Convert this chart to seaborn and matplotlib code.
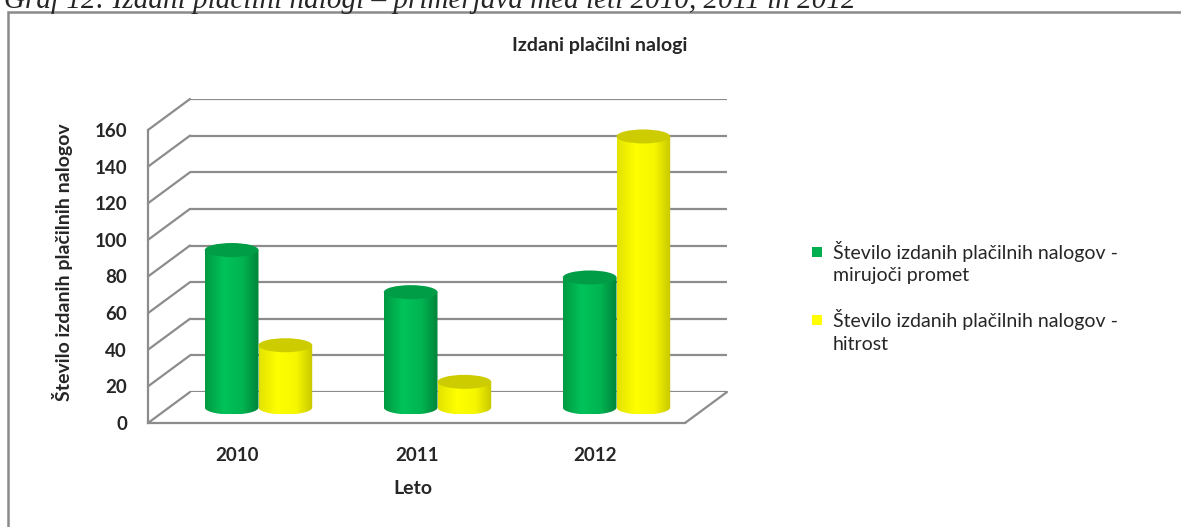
import numpy as np
import pandas as pd
import seaborn as sns
import matplotlib.pyplot as plt
from matplotlib.patches import Ellipse, PathPatch, Rectangle
from matplotlib.path import Path

# data
years = ['2010', '2011', '2012']
mirujoci = [86, 63, 71]
hitrost = [34, 14, 148]
series = ['Število izdanih plačilnih nalogov - mirujoči promet',
          'Število izdanih plačilnih nalogov - hitrost']
legend_lines = [['Število izdanih plačilnih nalogov -', 'mirujoči promet'],
                ['Število izdanih plačilnih nalogov -', 'hitrost']]
yticks = [0, 20, 40, 60, 80, 100, 120, 140, 160]

df = pd.DataFrame({
    'Leto': years * 2,
    'nalogi': mirujoci + hitrost,
    'serija': [series[0]] * 3 + [series[1]] * 3,
})

sns.set_style('white')
plt.rcParams['font.family'] = ['Lato', 'DejaVu Sans']

W, H = 1181, 527
fig = plt.figure(figsize=(W / 100, H / 100), dpi=100)

GRID = '#8c8c8c'
GREEN = '#00b050'
YELLOW = '#ffff00'

# front plane of the fake 3d box, in pixels
FX0, FX1, FY0, FY1 = 148, 685, 423, 130
DX, DY = 21, 15.5          # half depth offset in pixels
pw, ph = (FX1 - FX0) / W, (FY0 - FY1) / H


def plane_axes(step, z):
    a = fig.add_axes([(FX0 + step * DX) / W, 1 - (FY0 - step * DY) / H, pw, ph], zorder=z)
    a.set_xlim(-0.5, 2.5)
    a.set_ylim(0, 160)
    a.patch.set_alpha(0)
    return a


ax_back = plane_axes(2, 0)
ax_front = plane_axes(0, 1)
ax_mid = plane_axes(1, 2)

# back wall gridlines
ax_back.set_yticks(yticks)
ax_back.yaxis.grid(True, color=GRID, lw=1.6)
ax_back.tick_params(left=False, bottom=False, labelleft=False, labelbottom=False)
for s in ax_back.spines.values():
    s.set_visible(False)

# front axis, floor and side diagonals
dxd = DX / ((FX1 - FX0) / 3)
dyd = DY / ((FY0 - FY1) / 160)
for s in ['top', 'right']:
    ax_front.spines[s].set_visible(False)
for s in ['left', 'bottom']:
    ax_front.spines[s].set_color(GRID)
    ax_front.spines[s].set_linewidth(1.6)
ax_front.set_yticks(yticks)
ax_front.set_yticklabels([str(t) for t in yticks], fontweight='bold')
ax_front.tick_params(axis='y', length=5, width=1.4, color=GRID, labelsize=13.5, pad=10)
ax_front.set_xticks(range(len(years)))
ax_front.set_xticklabels(years, fontweight='bold')
ax_front.tick_params(axis='x', length=0, labelsize=13.5, pad=17)
for t in yticks:
    ax_front.plot([-0.5, -0.5 + 2 * dxd], [t, t + 2 * dyd], color=GRID, lw=1.6, clip_on=False)
ax_front.plot([2.5, 2.5 + 2 * dxd], [0, 2 * dyd], color=GRID, lw=1.6, clip_on=False)

ax_front.set_xlabel('Leto', fontsize=14, fontweight='bold')
ax_front.xaxis.set_label_coords((413 - FX0) / (FX1 - FX0), (FY0 - 488) / (FY0 - FY1))
ax_front.xaxis.label.set_va('center')
ax_front.set_ylabel('Število izdanih plačilnih nalogov', fontsize=14, fontweight='bold')
ax_front.yaxis.set_label_coords((63 - FX0) / (FX1 - FX0), (FY0 - 262) / (FY0 - FY1))
ax_front.yaxis.label.set_va('center')

# cylinders
sns.barplot(data=df, x='Leto', y='nalogi', hue='serija', palette=[GREEN, YELLOW],
            width=0.6, saturation=1, legend=False, ax=ax_mid)
ax_mid.axis('off')

shades = [
    (['#009a43', '#00c35a', '#00b451', '#00853a'], '#009c46'),
    (['#e3e300', '#ffff00', '#f6f600', '#c8c800'], '#cccc00'),
]
stops = [0.0, 0.35, 0.7, 1.0]
EH = 14 / ((FY0 - FY1) / 160)
for cont, (cols, top) in zip(ax_mid.containers, shades):
    rgb = np.array([plt.matplotlib.colors.to_rgb(c) for c in cols])
    u = np.linspace(0, 1, 64)
    grad = np.stack([np.interp(u, stops, rgb[:, k]) for k in range(3)], axis=-1)
    for bar in cont:
        x0, w, h = bar.get_x(), bar.get_width(), bar.get_height()
        xc, a, b = x0 + w / 2, w / 2, EH / 2
        tt = np.linspace(np.pi, 2 * np.pi, 40)
        verts = [(x0, h)] + list(zip(xc + a * np.cos(tt), b * np.sin(tt))) + [(x0 + w, h), (x0, h)]
        codes = [Path.MOVETO] + [Path.LINETO] * (len(verts) - 2) + [Path.CLOSEPOLY]
        body = PathPatch(Path(verts, codes), facecolor='none', edgecolor='none', clip_on=False)
        ax_mid.add_patch(body)
        im = ax_mid.imshow(grad[np.newaxis], extent=(x0, x0 + w, -b, h), aspect='auto', zorder=2)
        im.set_clip_box(fig.bbox)
        im.set_clip_path(body)
        ax_mid.add_patch(Ellipse((xc, h), w, EH, facecolor=top, edgecolor='none', zorder=3,
                                 clip_on=False))
        bar.set_visible(False)
ax_mid.set_xlim(-0.5, 2.5)
ax_mid.set_ylim(0, 160)

# title, legend, caption, frame
fig.text(600 / W, 1 - 46 / H, 'Izdani plačilni nalogi', ha='center', va='center',
         fontsize=14, fontweight='bold')
for i, (lines, c) in enumerate(zip(legend_lines, [GREEN, YELLOW])):
    y1 = 252 + i * 68
    fig.add_artist(Rectangle((812 / W, 1 - (y1 + 5) / H), 10 / W, 10 / H,
                             transform=fig.transFigure, facecolor=c, edgecolor='none'))
    for j, txt in enumerate(lines):
        fig.text(833 / W, 1 - (y1 + 24 * j) / H, txt, ha='left', va='center', fontsize=14)

fig.text(4 / W, 1 - 8 / H, 'Graf 12: Izdani plačilni nalogi – primerjava med leti 2010, 2011 in 2012',
         ha='left', va='baseline', fontsize=21, style='italic', family='Liberation Serif')
fig.add_artist(Rectangle((8 / W, -0.1), 1.2, 1 - 12 / H + 0.1, transform=fig.transFigure,
                         fill=False, edgecolor='#8a8a8a', lw=1.8))

fig.savefig('out.png', dpi=100)
